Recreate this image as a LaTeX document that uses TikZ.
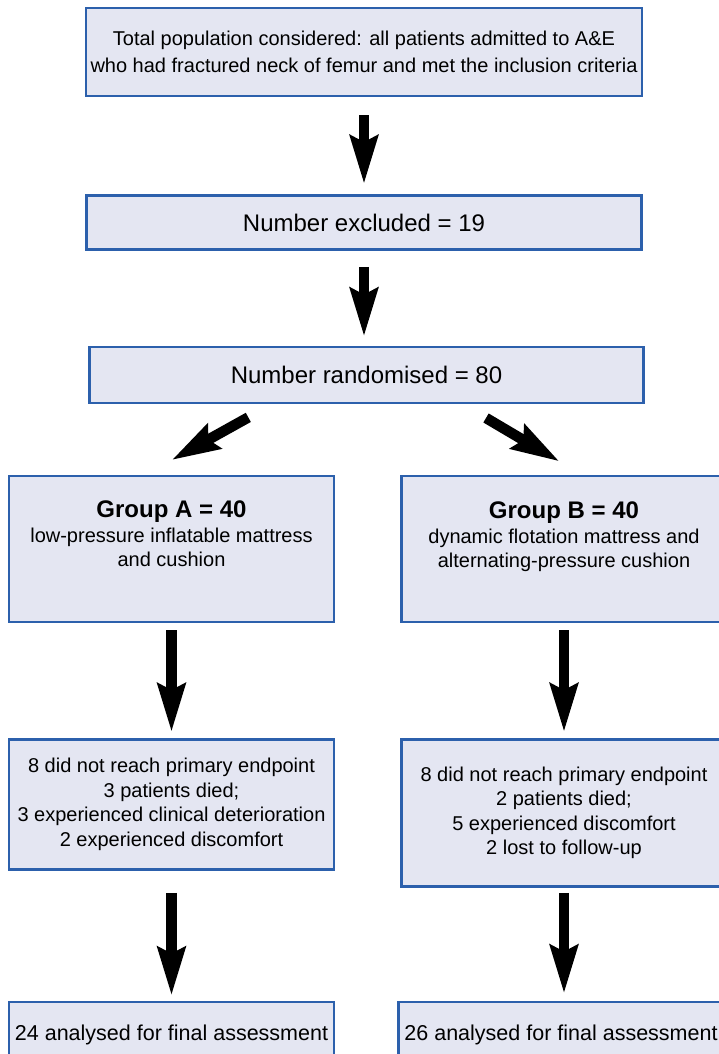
\documentclass[tikz,border=0pt]{standalone}
\usepackage{fontspec}
\setmainfont{Liberation Sans}
\usetikzlibrary{arrows.meta,positioning,calc}
\definecolor{FlowBlue}{RGB}{44,96,172}
\definecolor{FlowFill}{RGB}{228,230,242}

\begin{document}
\begin{tikzpicture}[font=\fontsize{20}{24.5}\selectfont]
          \tikzset{
            bx/.style={draw=FlowBlue, fill=FlowFill, line width=2.5pt, inner sep=0pt, align=center},
            txt/.style={inner sep=0pt, align=center},
            arr/.style={-{Stealth[length=48pt,width=27pt,inset=6pt]}, line width=10.5pt, draw=black}
          }
          \useasboundingbox (0,0) rectangle (718pt,-1054pt);
          \node[bx, minimum width=556pt, minimum height=88pt, font=\fontsize{20}{27}\selectfont] (top) at (364pt,-52pt)
            {Total population considered: all patients admitted to A\&E\\who had fractured neck of femur and met the inclusion criteria};
          \node[bx, minimum width=555pt, minimum height=54pt, below=97pt of top, font=\fontsize{24}{28}\selectfont] (excl) {Number excluded = 19};
          \node[bx, minimum width=554pt, minimum height=56pt, below=95pt of excl, xshift=2.5pt, font=\fontsize{24}{28}\selectfont] (rand) {Number randomised = 80};
          % the two arms
          \node[bx, minimum width=325pt, minimum height=146pt] (grpA) at (171.5pt,-549pt) {};
          \node[bx, minimum width=325pt, minimum height=146pt, right=65pt of grpA] (grpB) {};
          \node[txt, below=26pt of grpA.north] (grpAtxt) {{\fontsize{24}{24.5}\selectfont\bfseries Group A = 40}\\low-pressure inflatable mattress\\and cushion};
          \node[txt, below=27pt of grpB.north] (grpBtxt) {{\fontsize{24}{24.5}\selectfont\bfseries Group B = 40}\\dynamic flotation mattress and\\alternating-pressure cushion};
          \node[bx, minimum width=325pt, minimum height=130pt, below=115pt of grpA] (lossA)
            {8 did not reach primary endpoint\\3 patients died;\\3 experienced clinical deterioration\\2 experienced discomfort};
          \node[bx, minimum width=325pt, minimum height=147pt, below=115pt of grpB] (lossB)
            {8 did not reach primary endpoint\\2 patients died;\\5 experienced discomfort\\2 lost to follow-up};
          \node[bx, minimum width=325pt, minimum height=66pt, below=130pt of lossA, font=\fontsize{21.5}{26}\selectfont] (finA) {24 analysed for final assessment};
          \node[bx, minimum width=325pt, minimum height=66pt, below=113pt of lossB, xshift=-3pt, font=\fontsize{21.5}{26}\selectfont] (finB) {26 analysed for final assessment};
          % arrows
          \draw[arr, shorten <=18pt, shorten >=10pt] (top) -- (excl);
          \draw[arr, shorten <=16pt, shorten >=9pt] (excl.south) -- (excl.south |- rand.north);
          \draw[arr, shorten <=27pt, shorten >=30pt] ($(rand.south west)!0.33!(rand.south east)$) -- ($(grpA.north west)!0.42!(grpA.north east)$);
          \draw[arr, shorten <=27pt, shorten >=26pt] ($(rand.south west)!0.673!(rand.south east)$) -- ($(grpB.north west)!0.555!(grpB.north east)$);
          \draw[arr, shorten <=7pt, shorten >=6pt] (grpA) -- (lossA);
          \draw[arr, shorten <=7pt, shorten >=6pt] (grpB) -- (lossB);
          \draw[arr, shorten <=22pt, shorten >=5pt] (lossA) -- (finA);
          \draw[arr, shorten <=5pt, shorten >=7pt] (lossB.south) -- (lossB.south |- finB.north);
        \end{tikzpicture}
\end{document}
